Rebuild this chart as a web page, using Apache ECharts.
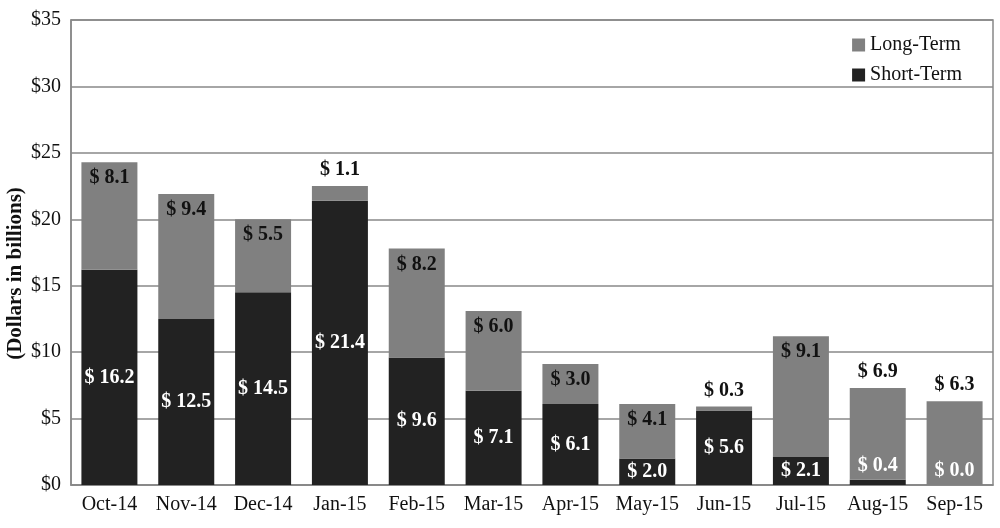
<!DOCTYPE html>
<html><head><meta charset="utf-8">
<script src="https://cdn.jsdelivr.net/npm/echarts@6/dist/echarts.min.js"></script>
<style>html,body{margin:0;padding:0;background:#fff}#c{width:1000px;height:528px}</style>
</head><body><div id="c"></div>
<script>
const categories = ['Oct-14','Nov-14','Dec-14','Jan-15','Feb-15','Mar-15','Apr-15','May-15','Jun-15','Jul-15','Aug-15','Sep-15'];
const shortTerm = [16.2, 12.5, 14.5, 21.4, 9.6, 7.1, 6.1, 2.0, 5.6, 2.1, 0.4, 0.0];
const longTerm = [8.1, 9.4, 5.5, 1.1, 8.2, 6.0, 3.0, 4.1, 0.3, 9.1, 6.9, 6.3];
const yTicks = [0, 5, 10, 15, 20, 25, 30, 35];

// label placement choices (style, not data)
const longLabelOutside = [false,false,false,true,false,false,false,false,true,false,true,true];
const shortLabelAbove = [false,false,false,false,false,false,false,false,false,false,true,true];

const FONT = '"Liberation Serif","Times New Roman",serif';
const fmt = v => '$ ' + v.toFixed(1);

const chart = echarts.init(document.getElementById('c'), null, {renderer:'canvas'});
chart.setOption({
  animation: false,
  backgroundColor: '#fff',
  grid: {left: 71, right: 7, top: 20, bottom: 43, show: true, borderColor: '#888', borderWidth: 1.5,
    containLabel: false, outerBoundsMode: 'none'},
  legend: {
    orient: 'vertical', right: 33, top: 30, itemWidth: 13, itemHeight: 13, itemGap: 10,
    icon: 'rect',
    textStyle: {fontFamily: FONT, fontSize: 20, color: '#111'},
    data: ['Long-Term', 'Short-Term']
  },
  xAxis: {
    type: 'category', data: categories,
    axisLine: {lineStyle: {color: '#888', width: 1.5}},
    axisTick: {show: false},
    axisLabel: {fontFamily: FONT, fontSize: 20, color: '#111', margin: 10, interval: 0}
  },
  yAxis: {
    type: 'value', min: yTicks[0], max: yTicks[yTicks.length-1], interval: 5,
    name: '(Dollars in billions)', nameLocation: 'middle', nameGap: 45, nameRotate: 90,
    nameMoveOverlap: false,
    nameTextStyle: {fontFamily: FONT, fontSize: 21, fontWeight: 'bold', color: '#111', padding: [0,0,0,-42]},
    axisLine: {show: true, lineStyle: {color: '#888', width: 1.5}},
    axisTick: {show: false},
    splitLine: {lineStyle: {color: '#888', width: 1.5}},
    axisLabel: {fontFamily: FONT, fontSize: 20, color: '#111', margin: 10, formatter: v => '$' + v}
  },
  series: [
    {
      name: 'Short-Term', type: 'bar', stack: 'total', barWidth: 56,
      itemStyle: {color: '#222222'},
      data: shortTerm.map((v, i) => ({
        value: v,
        label: shortLabelAbove[i] ? {position: 'top', distance: 4} : {position: 'inside'}
      })),
      label: {show: true, color: '#fff', fontFamily: FONT, fontSize: 20, fontWeight: 'bold',
        formatter: p => fmt(p.value)}
    },
    {
      name: 'Long-Term', type: 'bar', stack: 'total', barWidth: 56,
      itemStyle: {color: '#808080'},
      data: longTerm.map((v, i) => ({
        value: v,
        label: longLabelOutside[i] ? {position: 'top', distance: 6} : {position: 'insideTop', distance: 6}
      })),
      label: {show: true, color: '#111', fontFamily: FONT, fontSize: 20, fontWeight: 'bold',
        formatter: p => fmt(p.value)}
    }
  ]
});
</script></body></html>
